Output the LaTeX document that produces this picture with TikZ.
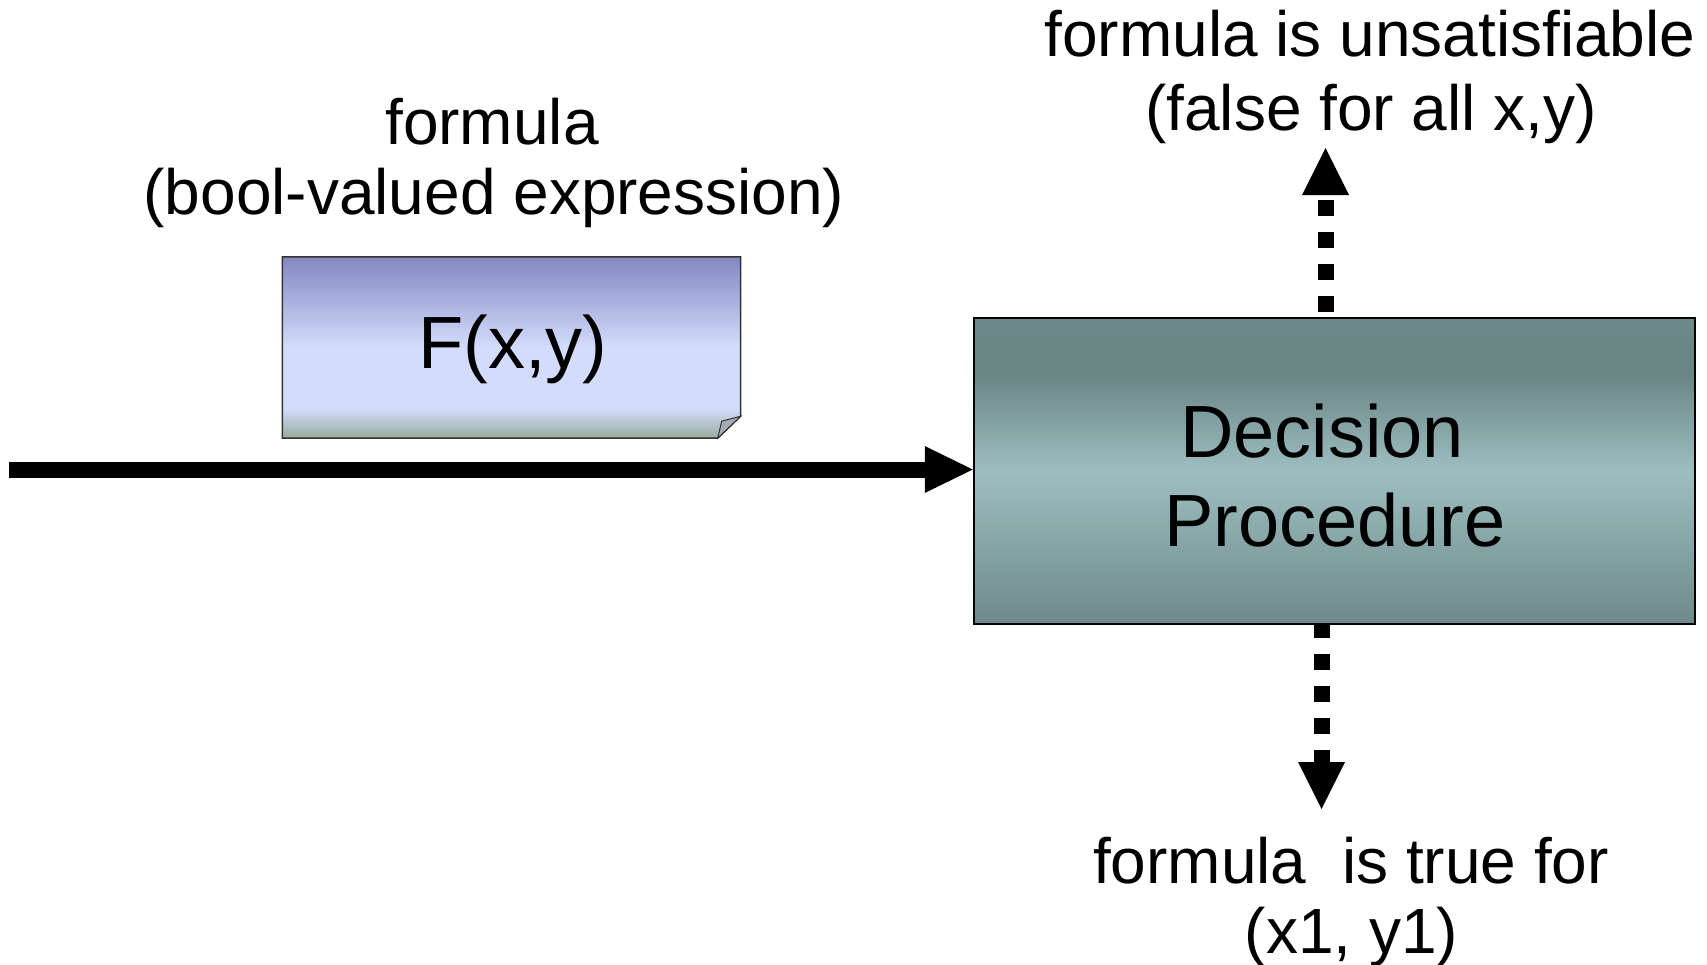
\documentclass[tikz,border=0pt]{standalone}
\usepackage{fontspec}
\setmainfont{Liberation Sans}
\usetikzlibrary{arrows.meta}
\definecolor{noteTop}{HTML}{8387C2}
\definecolor{noteMid}{HTML}{D3DCFB}
\definecolor{noteBot}{HTML}{97AB99}
\definecolor{boxTop}{HTML}{6E8989}
\definecolor{boxDark}{HTML}{6A8484}
\definecolor{boxMid}{HTML}{9DBEC1}
\definecolor{flapCol}{HTML}{A3ABB5}
\pgfdeclareverticalshading{noteshade}{100bp}{color(0bp)=(noteBot); color(25bp)=(noteBot); color(33bp)=(noteMid); color(50bp)=(noteMid); color(75bp)=(noteTop); color(100bp)=(noteTop)}
\pgfdeclareverticalshading{boxshade}{100bp}{color(0bp)=(boxDark); color(25bp)=(boxTop); color(50bp)=(boxMid); color(66bp)=(boxDark); color(75bp)=(boxTop); color(100bp)=(boxTop)}
\begin{document}
\begin{tikzpicture}[x=1pt,y=-1pt,
  lbl/.style={anchor=base, inner sep=0pt, font=\fontsize{64}{70}\selectfont},
  biglbl/.style={anchor=base, inner sep=0pt, font=\fontsize{74}{89}\selectfont},
  notebox/.style={minimum width=458pt, minimum height=181pt, inner sep=0pt},
  procbox/.style={draw=black, line width=2.5pt, shading=boxshade, minimum width=721pt, minimum height=306pt, inner sep=0pt},
  flow/.style={line width=16pt, -{Triangle[length=48pt,width=47pt,line width=0pt]}},
  result/.style={line width=16pt, dash pattern=on 16pt off 16pt, -{Triangle[length=47pt,width=47pt,line width=0pt]}}]
\useasboundingbox (0,0) rectangle (1707,964);
\fill[white] (0,0) rectangle (1707,964);
% decision procedure box
\node[procbox] (box) at (1334.5,471) {};
% note
\node[notebox] (note) at (511.5,347.5) {};
\shade[shading=noteshade, draw=black!80, line width=1.5pt]
  (note.north west) -- (note.north east) -- ([yshift=22pt]note.south east)
  -- ([xshift=-23pt]note.south east) -- (note.south west) -- cycle;
\filldraw[fill=flapCol, draw=black!80, line width=1pt]
  ([yshift=22pt]note.south east) -- ([xshift=-19pt,yshift=17pt]note.south east)
  -- ([xshift=-23pt]note.south east) -- cycle;
\node[biglbl] (fxy) at (512.8,368) {F(x,y)};
% labels
\node[lbl] (inLblA) at (492,144.8) {formula};
\node[lbl] (inLblB) at (494,214.5) {(bool-valued expression)};
\node[lbl] (upLblA) at (1370,56.6) {formula is unsatisfiable};
\node[lbl] (upLblB) at (1371,130) {(false for all x,y)};
\node[lbl] (dnLblA) at (1351,883) {formula\ \ is true for};
\node[lbl] (dnLblB) at (1351.6,953) {(x1, y1)};
\node[biglbl] (boxLblA) at (1322,457) {Decision};
\node[biglbl] (boxLblB) at (1335,546.5) {Procedure};
% connectors
\coordinate (inStart) at (9,469.5);
\draw[flow] (inStart) -- (inStart -| box.west);
\coordinate (upTip) at (1325.5,148);
\draw[result, dash phase=27pt] (box.north -| upTip) -- (upTip);
\coordinate (downTip) at (1321.5,809);
\draw[result, dash phase=3pt] (box.south -| downTip) -- (downTip);
\end{tikzpicture}
\end{document}
